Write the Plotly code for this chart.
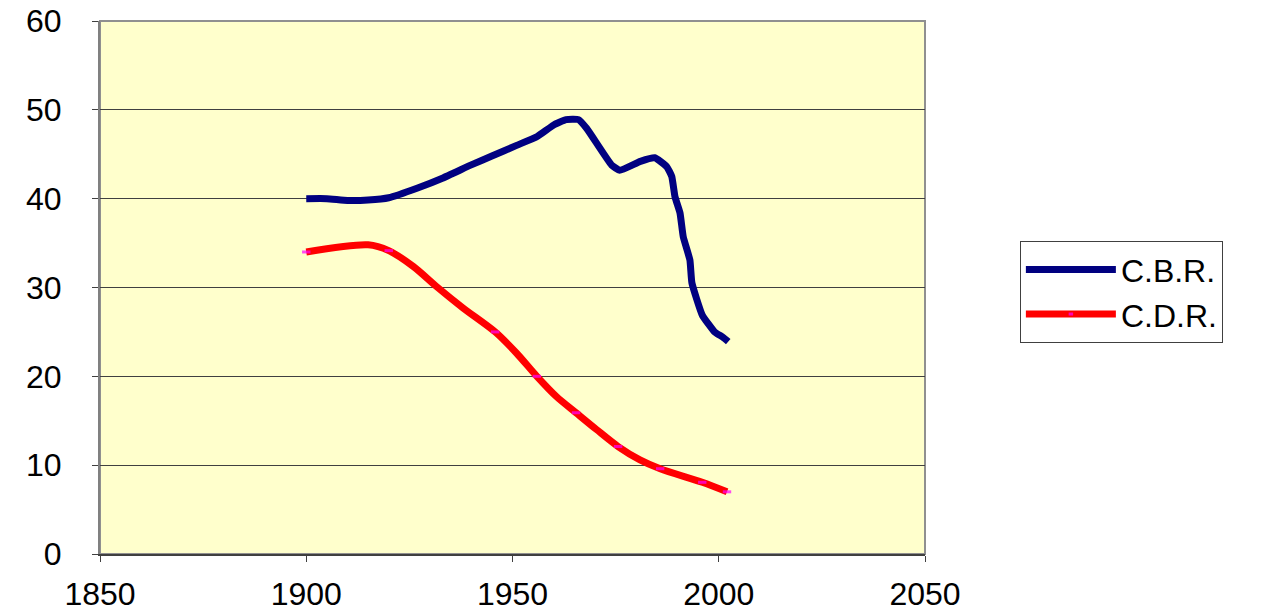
import plotly.graph_objects as go

cbr_years = [1900, 1905, 1910, 1915, 1920, 1927, 1933, 1940, 1945, 1951, 1956, 1960, 1963, 1966,
             1968, 1974, 1976, 1981, 1984.5, 1987.4, 1988.6, 1989.4, 1990.6, 1991.4, 1993, 1993.5,
             1996, 1999, 2001, 2002.3]
cbr_values = [40.0, 40.0, 39.8, 39.85, 40.1, 41.2, 42.3, 43.8, 44.8, 46.0, 47.0, 48.3, 48.9, 48.9,
              47.9, 43.8, 43.2, 44.2, 44.6, 43.6, 42.5, 40.2, 38.4, 35.7, 33.1, 30.5,
              26.9, 25.0, 24.4, 23.9]

cdr_years = [1900, 1915, 1920, 1926, 1931.6, 1938, 1945.8, 1951, 1955.9, 1960.7, 1965.4, 1970.4,
             1975.6, 1980.9, 1985.8, 1996, 2002]
cdr_values = [34.0, 34.8, 34.15, 32.35, 30.1, 27.7, 25.0, 22.6, 20.0, 17.7, 15.9, 14.0,
              12.1, 10.6, 9.6, 8.07, 7.0]
cdr_marker_sizes = [6, 0, 6, 0, 0, 0, 6, 0, 6, 0, 6, 0, 6, 0, 6, 6, 6]

x_ticks = [1850, 1900, 1950, 2000, 2050]
y_ticks = [0, 10, 20, 30, 40, 50, 60]

FONT = "Liberation Sans, Arial, sans-serif"

fig = go.Figure()
fig.add_trace(go.Scatter(
    x=cbr_years, y=cbr_values, name="C.B.R.", mode="lines",
    line=dict(color="#000080", width=7, shape="spline", smoothing=0.4),
))
fig.add_trace(go.Scatter(
    x=cdr_years, y=cdr_values, name="C.D.R.", mode="lines+markers",
    line=dict(color="#FF0000", width=7, shape="spline", smoothing=0.8),
    marker=dict(symbol="line-ew", size=cdr_marker_sizes, color="#FF00FF",
                line=dict(color="#FF00FF", width=3)),
))

fig.update_layout(
    width=1263, height=611,
    margin=dict(l=100, r=338, t=21, b=57, autoexpand=False),
    paper_bgcolor="white",
    plot_bgcolor="#FFFFCC",
    font=dict(family=FONT, size=32, color="black"),
    legend=dict(
        x=1.115, y=0.587, xanchor="left", yanchor="top",
        bgcolor="white", bordercolor="#404040", borderwidth=1,
        font=dict(family=FONT, size=32, color="black"),
        itemwidth=90, tracegroupgap=0, entrywidth=250,
    ),
)
fig.update_xaxes(
    range=[1850, 2050], tickvals=x_ticks, ticktext=[str(v) for v in x_ticks],
    showgrid=False, zeroline=False, automargin=False,
    showline=True, linecolor="#404040", linewidth=2, mirror=False,
    ticks="outside", ticklen=6, tickcolor="#404040", tickwidth=1,
    ticklabelstandoff=5, ticklabeloverflow="allow",
)
fig.update_yaxes(
    range=[0, 60], tickvals=y_ticks, automargin=False,
    showgrid=True, gridcolor="#404040", gridwidth=1, zeroline=False,
    showline=True, linecolor="#808080", linewidth=2, mirror=False,
    ticks="outside", ticklen=6, tickcolor="#404040", tickwidth=1,
    ticklabelstandoff=24, ticklabeloverflow="allow",
)
fig.add_shape(type="rect", xref="paper", yref="paper", x0=0, x1=1, y0=0, y1=1,
              line=dict(color="#909090", width=2), layer="below")

fig.write_html("out.html", config={"displayModeBar": False},
               post_script="document.body.style.margin='0';document.body.style.overflow='hidden';")
